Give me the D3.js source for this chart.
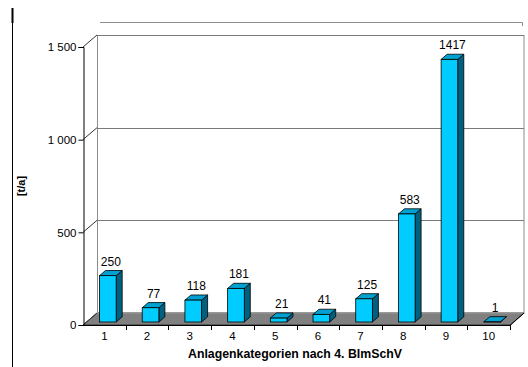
<!DOCTYPE html>
<html lang="de">
<head>
  <meta charset="UTF-8">
  <title>Anlagenkategorien</title>
  <script src="https://d3js.org/d3.v7.min.js"></script>
  <style>
    body { margin: 0; background: #fff; }
    svg { font-family: "Liberation Sans", Arial, sans-serif; display: block; }
  </style>
</head>
<body>
  <svg id="chart" width="528" height="367"></svg>

  <script>
    const categories = ["1", "2", "3", "4", "5", "6", "7", "8", "9", "10"];
    const values = [250, 77, 118, 181, 21, 41, 125, 583, 1417, 1];
    const yTicks = [0, 500, 1000, 1500];

    const svg = d3.select("#chart");

    // front plane
    const pLeft = 83, pRight = 510, pBottom = 325, pTop = 47;
    // depth of the 3d box
    const dx = 14, dy = -12;
    const z0 = 0.25, z1 = 0.68; // bar depth range

    const x = d3.scaleBand().domain(categories).range([pLeft, pRight]).padding(0);
    const y = d3.scaleLinear().domain([0, 1500]).range([pBottom, pTop]);

    const fmt = d3.formatLocale({ decimal: ",", thousands: " ", grouping: [3], currency: ["", ""] }).format(",");

    // frame lines
    svg.append("line").attr("x1", 12.5).attr("x2", 12.5).attr("y1", 8).attr("y2", 367)
      .attr("stroke", "#000");
    svg.append("line").attr("x1", 12.5).attr("x2", 12.5).attr("y1", 8).attr("y2", 23)
      .attr("stroke", "#000").attr("stroke-width", 2);
    svg.append("path").attr("d", "M100,22.5H522.5V26")
      .attr("fill", "none").attr("stroke", "#8c8c8c");

    // floor
    svg.append("path")
      .attr("d", `M${pLeft},${pBottom}L${pRight},${pBottom}L${pRight + dx},${pBottom + dy}L${pLeft + dx},${pBottom + dy}Z`)
      .attr("fill", "#808080").attr("stroke", "#333").attr("stroke-width", 1);

    // back wall + gridlines
    const g = svg.append("g");
    g.append("rect")
      .attr("x", pLeft + dx + 0.5).attr("y", y(1500) + dy + 0.5)
      .attr("width", pRight - pLeft - 0.5).attr("height", y(0) - y(1500))
      .attr("fill", "none").attr("stroke", "#8c8c8c");
    g.selectAll(".grid")
      .data(yTicks.filter(d => d > 0))
      .enter().append("line")
      .attr("x1", pLeft + dx).attr("x2", pRight + dx)
      .attr("y1", d => Math.round(y(d) + dy) + 0.5)
      .attr("y2", d => Math.round(y(d) + dy) + 0.5)
      .attr("stroke", "#7a7a7a");
    g.selectAll(".diag")
      .data(yTicks)
      .enter().append("line")
      .attr("x1", pLeft).attr("y1", d => y(d))
      .attr("x2", pLeft + dx).attr("y2", d => y(d) + dy)
      .attr("stroke", "#333");

    // y axis
    const yAxis = svg.append("g")
      .attr("transform", `translate(${pLeft + 0.5},0)`)
      .call(d3.axisLeft(y).tickValues(yTicks).tickSize(5).tickPadding(2).tickFormat(fmt));
    yAxis.select(".domain").attr("stroke", "#000");
    yAxis.selectAll("text").attr("font-size", 11.5).attr("fill", "#000")
      .attr("font-family", "Liberation Sans, Arial, sans-serif");

    // x axis line and boundary ticks
    svg.append("line").attr("x1", pLeft).attr("x2", pRight)
      .attr("y1", pBottom + 0.5).attr("y2", pBottom + 0.5).attr("stroke", "#000");
    svg.append("line").attr("x1", pRight).attr("y1", pBottom + 0.5)
      .attr("x2", pRight + dx).attr("y2", pBottom + dy).attr("stroke", "#000");
    svg.selectAll(".xtick")
      .data(categories)
      .enter().append("line")
      .attr("x1", d => Math.round(x(d) + x.bandwidth()) + 0.5)
      .attr("x2", d => Math.round(x(d) + x.bandwidth()) + 0.5)
      .attr("y1", pBottom).attr("y2", pBottom + 5)
      .attr("stroke", "#000");

    const xAxis = svg.append("g")
      .attr("transform", `translate(0,${pBottom})`)
      .call(d3.axisBottom(x).tickSize(0).tickPadding(7));
    xAxis.select(".domain").remove();
    xAxis.selectAll("text").attr("font-size", 11.5).attr("fill", "#000")
      .attr("font-family", "Liberation Sans, Arial, sans-serif");

    // bars
    const bw = x.bandwidth() * 0.39;
    const data = categories.map((c, i) => ({ cat: c, value: values[i] }));
    const bars = svg.selectAll(".bar").data(data).enter().append("g").attr("class", "bar");

    const fx = d => x(d.cat) + x.bandwidth() / 2 - bw / 2 + dx * z0;
    const fyBase = pBottom + dy * z0;
    const fyTop = d => fyBase - (y(0) - y(d.value));
    const ddx = dx * (z1 - z0), ddy = dy * (z1 - z0);

    // side face
    bars.append("path")
      .attr("d", d => `M${fx(d) + bw},${fyBase}L${fx(d) + bw + ddx},${fyBase + ddy}L${fx(d) + bw + ddx},${fyTop(d) + ddy}L${fx(d) + bw},${fyTop(d)}Z`)
      .attr("fill", "#006080").attr("stroke", "#000").attr("stroke-width", 0.8).attr("stroke-linejoin", "round");
    // top face
    bars.append("path")
      .attr("d", d => `M${fx(d)},${fyTop(d)}L${fx(d) + bw},${fyTop(d)}L${fx(d) + bw + ddx},${fyTop(d) + ddy}L${fx(d) + ddx},${fyTop(d) + ddy}Z`)
      .attr("fill", "#00a0d0").attr("stroke", "#000").attr("stroke-width", 0.8).attr("stroke-linejoin", "round");
    // front face
    bars.append("rect")
      .attr("x", d => fx(d)).attr("y", d => fyTop(d))
      .attr("width", bw).attr("height", d => fyBase - fyTop(d))
      .attr("fill", "#00ccff").attr("stroke", "#000").attr("stroke-width", 0.8);

    // value labels
    bars.append("text")
      .attr("x", d => fx(d) + (bw + ddx) / 2)
      .attr("y", d => fyTop(d) + ddy - 5)
      .attr("text-anchor", "middle")
      .attr("font-size", 12)
      .attr("fill", "#000")
      .text(d => d.value);

    // axis titles
    svg.append("text")
      .attr("transform", "translate(25,186) rotate(-90)")
      .attr("text-anchor", "middle")
      .attr("font-size", 11).attr("font-weight", "bold")
      .text("[t/a]");
    svg.append("text")
      .attr("x", 295).attr("y", 358)
      .attr("text-anchor", "middle")
      .attr("font-size", 12.3).attr("font-weight", "bold")
      .text("Anlagenkategorien nach 4. BImSchV");
  </script>
</body>
</html>
